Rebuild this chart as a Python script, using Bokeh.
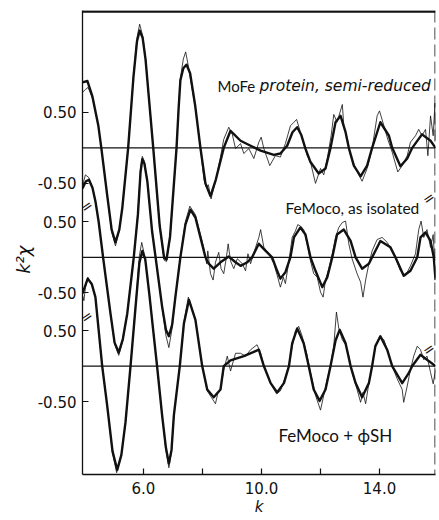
import numpy as np
from bokeh.plotting import figure
from bokeh.models import Span, Label, FixedTicker
from bokeh.embed import file_html
from bokeh.resources import INLINE

# ---------------- data (k, k^2 chi) ----------------
# MoFe protein, semi-reduced : fit (thick) and data (thin)
top_fit_k = [3.93, 4.10, 4.27, 4.47, 4.57, 4.77, 4.92, 5.05, 5.18, 5.28, 5.48, 5.66, 5.78, 5.87, 5.97,
             6.07, 6.33, 6.55, 6.70, 6.78, 6.90, 7.12, 7.19, 7.25, 7.35, 7.46, 7.58, 7.75, 7.93, 8.10,
             8.27, 8.45, 8.72, 8.95, 9.29, 9.63, 9.97, 10.42, 10.64, 10.87, 11.05, 11.21, 11.35, 11.49,
             11.66, 11.94, 12.17, 12.34, 12.51, 12.68, 12.85, 12.96, 13.13, 13.36, 13.58, 13.75, 14.03,
             14.32, 14.43, 14.71, 14.94, 15.11, 15.44, 15.73, 15.90]
top_fit_v = [0.92, 0.94, 0.72, 0.31, 0.00, -0.67, -1.15, -1.33, -1.15, -0.85, 0.00, 1.00, 1.50, 1.65, 1.55,
             1.24, 0.00, -1.10, -1.55, -1.57, -1.25, 0.00, 0.55, 0.95, 1.12, 1.17, 1.05, 0.60, 0.00, -0.50,
             -0.68, -0.45, 0.00, 0.24, 0.10, 0.03, -0.04, -0.10, -0.08, 0.03, 0.22, 0.29, 0.18, -0.01,
             -0.20, -0.36, -0.29, 0.00, 0.36, 0.45, 0.22, 0.00, -0.25, -0.40, -0.25, 0.00, 0.36,
             0.17, 0.00, -0.26, -0.15, 0.00, 0.19, 0.10, 0.00]
top_dat_k = [3.93, 4.03, 4.12, 4.27, 4.47, 4.57, 4.77, 4.92, 5.05, 5.18, 5.28, 5.48, 5.66, 5.78, 5.87,
             5.97, 6.07, 6.33, 6.55, 6.70, 6.78, 6.90, 7.12, 7.19, 7.25, 7.35, 7.43, 7.52, 7.75, 7.93,
             8.05, 8.12, 8.20, 8.29, 8.45, 8.60, 8.72, 8.89, 9.01, 9.12, 9.29, 9.40, 9.57, 9.74, 9.91,
             9.99, 10.08, 10.28, 10.47, 10.64, 10.81, 10.98, 11.10, 11.19, 11.32, 11.55, 11.66, 11.83,
             12.00, 12.11, 12.23, 12.36, 12.45, 12.56, 12.74, 12.79, 12.91, 13.02, 13.19, 13.41, 13.58,
             13.75, 13.92, 14.00, 14.15, 14.28, 14.43, 14.62, 14.77, 14.94, 15.05, 15.22, 15.33, 15.44,
             15.56, 15.64, 15.73, 15.82, 15.88, 15.90]
top_dat_v = [0.78, 0.82, 0.85, 0.70, 0.31, 0.00, -0.67, -1.18, -1.38, -1.15, -0.85, 0.00, 1.02, 1.55, 1.74,
             1.58, 1.26, 0.00, -1.12, -1.58, -1.60, -1.27, 0.00, 0.58, 0.98, 1.25, 1.35, 1.15, 0.58, 0.00,
             -0.45, -0.55, -0.52, -0.72, -0.45, -0.15, 0.12, 0.29, 0.19, -0.01, 0.06, -0.08, -0.01, -0.15, 0.08,
             0.15, -0.01, -0.25, -0.11, -0.13, 0.06, 0.31, 0.36, 0.40, 0.22, -0.11, -0.20, -0.50,
             -0.29, -0.38, -0.15, 0.17, 0.47, 0.36, 0.61, 0.31, 0.12, -0.11, -0.29, -0.47, -0.29,
             -0.01, 0.45, 0.52, 0.31, 0.12, -0.06, -0.34, -0.25, -0.11, 0.08, 0.17, 0.26, 0.17,
             0.26, -0.11, 0.45, 0.17, 0.63, 0.10]

# FeMoco, as isolated
mid_fit_k = [3.93, 4.05, 4.15, 4.27, 4.37, 4.48, 4.63, 4.88, 5.02, 5.16, 5.30, 5.45, 5.67, 5.81, 5.90,
             5.96, 6.03, 6.13, 6.29, 6.41, 6.63, 6.76, 6.86, 6.97, 7.08, 7.25, 7.42, 7.59, 7.76, 7.93,
             8.10, 8.21, 8.38, 8.61, 8.89, 9.12, 9.29, 9.52, 9.68, 9.91, 10.14, 10.36, 10.53, 10.64,
             10.81, 10.98, 11.10, 11.32, 11.49, 11.66, 11.83, 12.06, 12.23, 12.40, 12.56, 12.79, 13.02,
             13.19, 13.41, 13.64, 13.75, 14.03, 14.37, 14.54, 14.82, 15.05, 15.28, 15.39, 15.56, 15.73,
             15.84, 15.90]
mid_fit_v = [0.97, 1.07, 1.09, 0.98, 0.79, 0.50, 0.00, -0.79, -1.20, -1.34, -1.15, -0.79, 0.00, 0.60, 1.20,
             1.38, 1.32, 1.07, 0.37, 0.00, -0.69, -1.02, -1.11, -0.95, -0.56, 0.00, 0.46, 0.67, 0.56, 0.28,
             0.00, -0.09, -0.16, -0.07, 0.01, -0.07, -0.12, -0.07, 0.00, 0.19, 0.09, 0.00, -0.19, -0.30,
             -0.21, 0.00, 0.28, 0.42, 0.32, 0.00, -0.19, -0.42, -0.28, 0.00, 0.32, 0.39, 0.23,
             0.00, -0.16, -0.09, 0.00, 0.23, 0.14, 0.00, -0.26, -0.19, 0.00, 0.28, 0.35, 0.23,
             0.00, -0.32]
mid_dat_k = [3.93, 4.03, 4.15, 4.27, 4.37, 4.48, 4.63, 4.88, 5.02, 5.16, 5.30, 5.45, 5.67, 5.81, 5.90,
             5.96, 6.03, 6.13, 6.29, 6.41, 6.63, 6.76, 6.86, 6.97, 7.08, 7.25, 7.42, 7.57, 7.76, 7.93,
             8.04, 8.14, 8.18, 8.27, 8.36, 8.44, 8.55, 8.63, 8.72, 8.81, 8.87, 8.95, 9.06, 9.18, 9.35,
             9.46, 9.54, 9.63, 9.80, 9.91, 9.97, 10.08, 10.25, 10.42, 10.55, 10.64, 10.74, 10.81, 10.93,
             11.04, 11.15, 11.23, 11.32, 11.43, 11.55, 11.66, 11.77, 11.89, 12.00, 12.09, 12.17, 12.28,
             12.40, 12.51, 12.62, 12.74, 12.85, 12.96, 13.07, 13.24, 13.36, 13.44, 13.53, 13.64, 13.75,
             13.92, 14.09, 14.26, 14.43, 14.58, 14.71, 14.88, 15.05, 15.22, 15.33, 15.41, 15.50, 15.61,
             15.73, 15.82, 15.90]
mid_dat_v = [1.00, 1.16, 1.12, 0.98, 0.79, 0.50, 0.00, -0.79, -1.22, -1.38, -1.17, -0.79, 0.00, 0.62, 1.25,
             1.42, 1.35, 1.07, 0.37, 0.00, -0.70, -1.10, -1.27, -1.00, -0.56, 0.00, 0.50, 0.72, 0.60, 0.32,
             0.14, -0.09, 0.09, -0.23, -0.32, -0.07, 0.07, -0.16, -0.23, 0.00, 0.19, -0.05, -0.16, -0.02, -0.09,
             -0.19, 0.05, -0.09, 0.14, 0.28, 0.39, 0.14, 0.05, -0.09, -0.28, -0.42, -0.28, -0.37, -0.05,
             0.28, 0.37, 0.46, 0.44, 0.39, 0.19, -0.05, -0.23, -0.28, -0.49, -0.56, -0.32, -0.16,
             0.05, 0.28, 0.42, 0.49, 0.51, 0.19, -0.02, -0.23, -0.35, -0.56, -0.32, -0.09, 0.09,
             0.25, 0.28, 0.21, 0.09, -0.05, -0.19, -0.26, -0.12, 0.05, 0.39, 0.51, 0.28, 0.39,
             0.14, 0.32, -0.30]

# FeMoco + phiSH
bot_fit_k = [3.93, 4.11, 4.25, 4.37, 4.60, 4.77, 4.95, 5.11, 5.25, 5.39, 5.56, 5.73, 5.86, 5.96, 6.06,
             6.20, 6.33, 6.46, 6.63, 6.76, 6.86, 6.95, 7.03, 7.23, 7.37, 7.54, 7.76, 7.99, 8.16, 8.38,
             8.61, 8.72, 8.95, 9.40, 9.74, 9.91, 10.08, 10.31, 10.53, 10.76, 10.93, 11.04, 11.21, 11.43,
             11.60, 11.77, 11.97, 12.17, 12.34, 12.51, 12.65, 12.85, 13.02, 13.19, 13.41, 13.64, 13.75,
             13.86, 14.03, 14.26, 14.43, 14.77, 14.99, 15.11, 15.39, 15.67, 15.90]
bot_fit_v = [1.02, 1.23, 1.15, 0.97, 0.00, -0.56, -1.20, -1.46, -1.25, -0.79, 0.00, 0.83, 1.45, 1.62, 1.50,
             1.00, 0.50, 0.00, -0.69, -1.15, -1.37, -1.18, -0.69, 0.00, 0.60, 0.93, 0.65, 0.00, -0.33, -0.44,
             -0.33, 0.00, 0.08, 0.14, 0.20, 0.23, 0.00, -0.24, -0.37, -0.24, 0.00, 0.32, 0.53, 0.32,
             0.00, -0.33, -0.49, -0.33, 0.00, 0.36, 0.51, 0.32, 0.00, -0.24, -0.44, -0.24, 0.00,
             0.28, 0.42, 0.23, 0.00, -0.24, -0.10, 0.00, 0.16, 0.07, 0.00]
bot_dat_k = [3.93, 3.98, 4.03, 4.11, 4.25, 4.37, 4.60, 4.77, 4.95, 5.09, 5.25, 5.39, 5.56, 5.73, 5.86,
             5.94, 6.04, 6.20, 6.33, 6.46, 6.63, 6.76, 6.86, 6.95, 7.03, 7.23, 7.37, 7.52, 7.76, 7.99,
             8.16, 8.30, 8.44, 8.52, 8.61, 8.72, 8.84, 8.95, 9.12, 9.29, 9.46, 9.63, 9.85, 9.97, 10.08,
             10.31, 10.51, 10.64, 10.81, 10.93, 11.04, 11.15, 11.26, 11.38, 11.53, 11.66, 11.83, 12.00,
             12.11, 12.23, 12.34, 12.45, 12.54, 12.62, 12.74, 12.85, 12.96, 13.07, 13.24, 13.36, 13.44,
             13.53, 13.64, 13.75, 13.86, 14.01, 14.15, 14.26, 14.43, 14.60, 14.77, 14.82, 14.94, 15.05,
             15.16, 15.28, 15.39, 15.50, 15.61, 15.73, 15.82, 15.90]
bot_dat_v = [1.00, 0.92, 1.10, 1.25, 1.15, 0.97, 0.00, -0.56, -1.22, -1.50, -1.25, -0.79, 0.00, 0.85, 1.55,
             1.74, 1.55, 1.02, 0.50, 0.00, -0.70, -1.18, -1.43, -1.20, -0.69, 0.00, 0.62, 0.97, 0.66, 0.00,
             -0.35, -0.44, -0.53, -0.38, -0.33, -0.05, 0.14, -0.07, 0.18, 0.18, 0.14, 0.23, 0.30, 0.18, 0.00,
             -0.25, -0.39, -0.35, -0.16, 0.00, 0.27, 0.49, 0.56, 0.42, 0.18, -0.09, -0.41, -0.62,
             -0.41, -0.18, 0.00, 0.28, 0.76, 0.53, 0.37, 0.30, 0.14, -0.09, -0.33, -0.51, -0.37,
             -0.53, -0.24, 0.00, 0.28, 0.42, 0.37, 0.23, 0.00, -0.18, -0.33, -0.51, -0.28, -0.05,
             0.14, 0.28, 0.23, 0.09, 0.14, -0.09, -0.25, -0.05]

offsets = [1.54, 0.0, -1.53]          # vertical stacking of the three spectra
x_ticks = [6, 8, 10, 12, 14]
x_tick_labels = {6: "6.0", 8: "", 10: "10.0", 12: "", 14: "14.0"}
y_tick_text = ["0.50", "-0.50"]
names = ["MoFe", "FeMoco, as isolated", "FeMoco + \u03d5SH"]

# ---------------- geometry helpers (pixel -> data, for placing texts) ----------------
def xd(px):
    return 6 + (px - 143) / 29.5

def yd(px):
    return (260 - px) / 72.0

p = figure(width=437, height=518, x_range=(xd(82), xd(435)), y_range=(yd(480), yd(10)),
           output_backend="svg", toolbar_location=None,
           min_border_left=82, min_border_right=2, min_border_top=10, min_border_bottom=38)
p.grid.visible = False
p.outline_line_color = None
p.background_fill_color = "white"

INK = "#111111"
series = [(top_dat_k, top_dat_v, top_fit_k, top_fit_v),
          (mid_dat_k, mid_dat_v, mid_fit_k, mid_fit_v),
          (bot_dat_k, bot_dat_v, bot_fit_k, bot_fit_v)]
for (dk, dv, fk, fv), off in zip(series, offsets):
    p.add_layout(Span(location=off, dimension="width", line_color=INK, line_width=1.3))
    p.line(dk, np.array(dv) + off, line_color=INK, line_width=0.8, line_join="round")
    p.line(fk, np.array(fv) + off, line_color=INK, line_width=2.4, line_join="round")

# frame: thick top, dashed right
p.add_layout(Span(location=yd(11), dimension="width", line_color=INK, line_width=2.5))
p.add_layout(Span(location=xd(434.5), dimension="height", line_color=INK, line_width=1.0, line_dash="12 5"))

# axes
p.xaxis.ticker = FixedTicker(ticks=x_ticks)
p.xaxis.major_label_overrides = x_tick_labels
y_ticks = []
y_over = {}
for off in offsets:
    for t, lab in zip([off + 0.5, off - 0.5], y_tick_text):
        y_ticks.append(t)
        y_over[t] = lab
p.yaxis.ticker = FixedTicker(ticks=y_ticks)
p.yaxis.major_label_overrides = y_over
for ax in (p.xaxis, p.yaxis):
    ax.axis_line_color = INK
    ax.axis_line_width = 1.3
    ax.major_tick_line_color = INK
    ax.major_tick_line_width = 1.2
    ax.major_tick_in = 6
    ax.major_tick_out = 0
    ax.minor_tick_line_color = None
    ax.major_label_text_font = "DejaVu Sans"
    ax.major_label_text_font_size = "15px"
    ax.major_label_text_color = INK
    ax.axis_label_text_font = "DejaVu Sans"
    ax.axis_label_text_font_style = "italic"
    ax.axis_label_text_color = INK
p.xaxis.major_label_standoff = 7
p.yaxis.major_label_standoff = 6

# axis titles
p.xaxis.axis_label = "k"
p.xaxis.axis_label_text_font_size = "15px"
p.xaxis.axis_label_standoff = 1
p.yaxis.axis_label = "k\u00b2\u03c7" + "\u00a0" * 6
p.yaxis.axis_label_text_font_size = "18px"
p.yaxis.axis_label_standoff = 1

# axis break marks (just inside the frame)
for (bx, by) in [(86, 208), (86, 320), (428, 200), (428, 353)]:
    p.add_layout(Label(x=xd(bx), y=yd(by), text="=", angle=0.6, text_align="center",
                       text_baseline="middle", text_font="DejaVu Sans", text_font_size="14px",
                       text_color=INK))

# panel labels
p.add_layout(Label(x=xd(217), y=yd(86), text=names[0], text_font="Lato", text_font_size="15px",
                   text_baseline="alphabetic", text_color=INK))
p.add_layout(Label(x=xd(259), y=yd(86), text="protein, semi-reduced", text_font="DejaVu Sans",
                   text_font_style="italic", text_font_size="15.5px", text_baseline="alphabetic",
                   text_color=INK))
p.add_layout(Label(x=xd(285), y=yd(210), text=names[1], text_font="Lato", text_font_size="15.5px",
                   text_baseline="alphabetic", text_color=INK))
p.add_layout(Label(x=xd(278), y=yd(440), text=names[2], text_font="Lato", text_font_size="17px",
                   text_baseline="alphabetic", text_color=INK))

open("out.html", "w").write(file_html(p, INLINE))
